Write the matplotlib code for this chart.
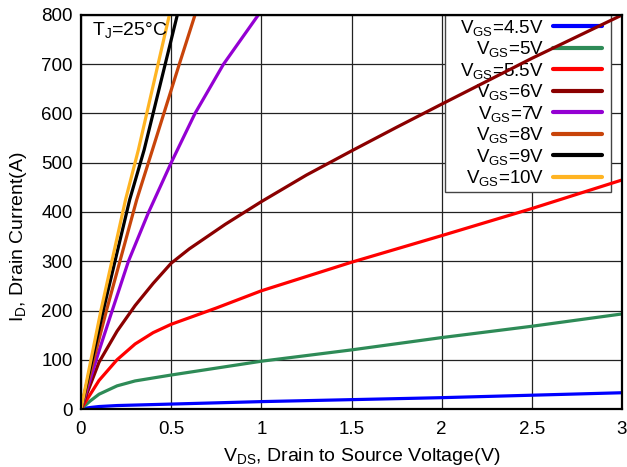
import matplotlib
matplotlib.use("Agg")
import matplotlib.pyplot as plt
from matplotlib.patches import Rectangle

plt.rcParams['font.family'] = ['Liberation Sans', 'DejaVu Sans']
plt.rcParams['mathtext.fontset'] = 'custom'
plt.rcParams['mathtext.rm'] = 'Liberation Sans'
plt.rcParams['mathtext.it'] = 'Liberation Sans:italic'
plt.rcParams['mathtext.bf'] = 'Liberation Sans:bold'
plt.rcParams['mathtext.default'] = 'rm'

# Data (V_DS in volts, I_D in amps)
v45 = [0, 0.05, 0.1, 0.2, 0.5, 1.0, 1.5, 2.0, 2.5, 3.0]
i45 = [0, 3, 5, 7, 10, 15, 19, 23, 28, 33]

v5 = [0, 0.05, 0.1, 0.2, 0.3, 0.5, 0.75, 1.0, 1.5, 2.0, 2.5, 3.0]
i5 = [0, 16, 30, 47, 57, 69, 83, 97, 120, 145, 168, 193]

v55 = [0, 0.1, 0.2, 0.3, 0.4, 0.5, 0.75, 1.0, 1.5, 2.0, 2.5, 3.0]
i55 = [0, 58, 100, 132, 155, 172, 205, 240, 298, 352, 407, 465]

v6 = [0, 0.1, 0.2, 0.3, 0.4, 0.5, 0.6, 0.7, 0.8, 0.9, 1.0, 1.25, 1.5, 1.75, 2.0, 2.5, 3.0]
i6 = [0, 95, 158, 210, 255, 296, 325, 350, 375, 398, 421, 475, 524, 572, 619, 712, 800]

v7 = [0, 0.1, 0.174, 0.263, 0.373, 0.5, 0.632, 0.79, 0.983]
i7 = [0, 118, 201, 300, 398, 500, 600, 700, 800]

v8 = [0, 0.142, 0.309, 0.396, 0.545, 0.632]
i8 = [0, 201, 425, 526, 700, 800]

v9 = [0, 0.124, 0.27, 0.35, 0.534]
i9 = [0, 201, 425, 526, 800]

v10 = [0, 0.111, 0.247, 0.318, 0.49]
i10 = [0, 201, 425, 526, 800]

labels = [r'V$_{GS}$=4.5V', r'V$_{GS}$=5V', r'V$_{GS}$=5.5V', r'V$_{GS}$=6V',
          r'V$_{GS}$=7V', r'V$_{GS}$=8V', r'V$_{GS}$=9V', r'V$_{GS}$=10V']
colors = ['#0000ff', '#2e8b57', '#ff0000', '#8b0000',
          '#9400d3', '#c8440a', '#000000', '#ffb422']
series = [(v45, i45), (v5, i5), (v55, i55), (v6, i6),
          (v7, i7), (v8, i8), (v9, i9), (v10, i10)]

xticks = [0, 0.5, 1, 1.5, 2, 2.5, 3]
xticklabels = ['0', '0.5', '1', '1.5', '2', '2.5', '3']
yticks = [0, 100, 200, 300, 400, 500, 600, 700, 800]

W, H = 627, 467
fig = plt.figure(figsize=(W/100, H/100), dpi=100)
L, R, B, T = 81, 622, 409, 15
ax = fig.add_axes([L/W, 1 - B/H, (R-L)/W, (B-T)/H])

def ax_fx(px):
    return (px - L) / (R - L)

def ax_fy(py):
    return (B - py) / (B - T)

for (v, i), c, lab in zip(series, colors, labels):
    ax.plot(v, i, color=c, lw=2.3, label=lab, solid_capstyle='round', zorder=3)

ax.set_xlim(0, 3)
ax.set_ylim(0, 800)
ax.set_xticks(xticks)
ax.set_xticklabels(xticklabels)
ax.set_yticks(yticks)
ax.grid(True, color='#222222', lw=0.9, zorder=0.5)
ax.set_axisbelow(True)
ax.tick_params(axis='x', length=0, labelsize=13.5, pad=9)
ax.tick_params(axis='y', length=0, labelsize=13.5, pad=6)
for s in ax.spines.values():
    s.set_linewidth(1.6)
    s.set_color('black')
    s.set_zorder(4)

ax.set_xlabel(r'V$_{DS}$, Drain to Source Voltage(V)', fontsize=14)
ax.set_ylabel(r'I$_{D}$, Drain Current(A)', fontsize=14)
ax.xaxis.set_label_coords(ax_fx(362), ax_fy(446))
ax.yaxis.set_label_coords(ax_fx(29), ax_fy(237))

ax.text(ax_fx(92), ax_fy(20), r'T$_{J}$=25°C', transform=ax.transAxes,
        fontsize=14, ha='left', va='top', zorder=5)

# legend frame (drawn as a patch to match the reference box), below the curves
frame = Rectangle((ax_fx(445), ax_fy(192)), ax_fx(611) - ax_fx(445),
                  ax_fy(15) - ax_fy(192), transform=ax.transAxes,
                  facecolor='white', edgecolor='#444444', lw=1.0, zorder=1.5)
ax.add_patch(frame)

leg = ax.legend(loc='upper right', bbox_to_anchor=(ax_fx(602), ax_fy(18)),
                fontsize=13.5, markerfirst=False, handlelength=2.6,
                handletextpad=0.5, labelspacing=0.08, borderpad=0.0,
                borderaxespad=0.0, frameon=False)
leg.set_zorder(2)
for t in leg.get_texts():
    t.set_ha('right')
for h in leg.get_lines():
    h.set_linewidth(3)

fig.savefig('out.png', dpi=100)
